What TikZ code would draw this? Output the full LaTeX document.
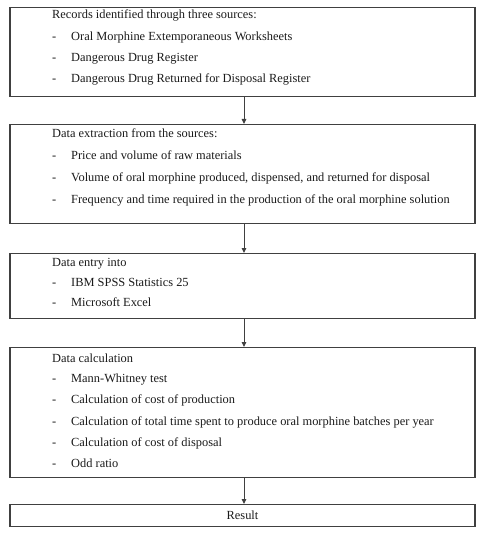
\documentclass[tikz,border=0pt]{standalone}
\usepackage{fontspec}
\setmainfont{Liberation Serif}
\usetikzlibrary{arrows.meta}
\definecolor{boxline}{HTML}{404040}
\definecolor{txt}{HTML}{1A1A1A}
\tikzset{
  box/.style={draw=boxline, line width=1.1pt, minimum width=465pt, inner sep=0pt, anchor=north},
  txtnode/.style={anchor=base west, inner sep=0pt, font=\fontsize{12.4}{14}\selectfont, text=txt},
  conn/.style={draw=boxline, line width=1pt, -{Triangle[length=5pt,width=4.5pt]}}
}
\newcommand{\itm}[3]{%
  \node[txtnode] (#1d) at (52,-#2-4) {-};
  \node[txtnode] (#1) at (71,-#2-4) {#3};}
\begin{document}
\begin{tikzpicture}[x=1pt,y=1pt]
\useasboundingbox (0,0) rectangle (484,-534);
% boxes
\node[box, minimum height=89pt] (b1) at (242.5,-7) {};
\node[box, minimum height=99pt] (b2) at (242.5,-124) {};
\node[box, minimum height=65pt] (b3) at (242.5,-253) {};
\node[box, minimum height=130pt] (b4) at (242.5,-347) {};
\node[box, minimum height=22pt] (b5) at (242.5,-504) {};
% box 1
\node[txtnode] (t1) at (52,-19) {Records identified through three sources:};
\itm{i11}{36.5}{Oral Morphine Extemporaneous Worksheets}
\itm{i12}{58}{Dangerous Drug Register}
\itm{i13}{79}{Dangerous Drug Returned for Disposal Register}
% box 2
\node[txtnode] (t2) at (52,-138) {Data extraction from the sources:};
\itm{i21}{156}{Price and volume of raw materials}
\itm{i22}{178}{Volume of oral morphine produced, dispensed, and returned for disposal}
\itm{i23}{200}{Frequency and time required in the production of the oral morphine solution}
% box 3
\node[txtnode] (t3) at (52,-266) {Data entry into};
\itm{i31}{282}{IBM SPSS Statistics 25}
\itm{i32}{302}{Microsoft Excel}
% box 4
\node[txtnode] (t4) at (52,-362) {Data calculation};
\itm{i41}{378}{Mann-Whitney test}
\itm{i42}{399}{Calculation of cost of production}
\itm{i43}{421}{Calculation of total time spent to produce oral morphine batches per year}
\itm{i44}{442}{Calculation of cost of disposal}
\itm{i45}{463}{Odd ratio}
% box 5
\node[txtnode, anchor=center] (t5) at (242.5,-515) {Result};
% connectors
\draw[conn] (b1.south -| 244,0) -- (b2.north -| 244,0);
\draw[conn] (b2.south -| 244,0) -- (b3.north -| 244,0);
\draw[conn] (b3.south -| 244,0) -- (b4.north -| 244,0);
\draw[conn] (b4.south -| 244,0) -- (b5.north -| 244,0);
\end{tikzpicture}
\end{document}
